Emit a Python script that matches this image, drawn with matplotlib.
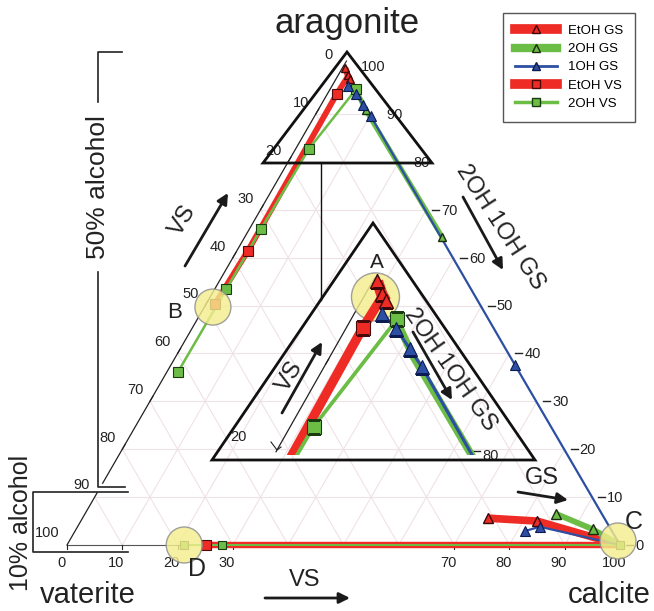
import matplotlib
matplotlib.use('Agg')
import matplotlib.pyplot as plt
import numpy as np
from matplotlib.patches import Polygon, Circle
from matplotlib.lines import Line2D

plt.rcParams['font.family'] = ['Liberation Sans', 'DejaVu Sans']

# ---------------- data: ternary compositions in % (a = aragonite, c = calcite; vaterite = 100 - a - c)
# 50 % alcohol
etoh_gs50_a = [99.6, 98.1, 97.3]
etoh_gs50_c = [0.5, 1.7, 2.5]
oh2_gs50_a = [95.2, 90.8, 64.3]
oh2_gs50_c = [4.6, 8.6, 35.7]
oh1_gs50_a = [95.8, 94.1, 91.8, 89.6, 37.6, 0.0]
oh1_gs50_c = [2.9, 5.2, 7.7, 10.1, 62.2, 100.0]
etoh_vs50_a = [98.1, 94.2, 61.4, 50.3]
etoh_vs50_c = [1.9, 1.7, 2.0, 1.6]
oh2_vs50_a = [95.2, 82.7, 66.0, 53.4, 36.1]
oh2_vs50_c = [4.7, 2.4, 2.1, 2.1, 2.0]
# 10 % alcohol
etoh_gs10_a = [5.6, 5.0, 0.0]
etoh_gs10_c = [73.3, 82.5, 100.0]
oh2_gs10_a = [6.5, 3.3, 0.0]
oh2_gs10_c = [85.2, 93.4, 100.0]
oh1_gs10_a = [2.9, 3.8, 0.0]
oh1_gs10_c = [81.3, 83.6, 100.0]
etoh_vs10_a = [0.0, 0.0]
etoh_vs10_c = [25.1, 100.0]
oh2_vs10_a = [0.0, 0.0, 0.0]
oh2_vs10_c = [21.2, 28.0, 100.0]

series_labels = ['EtOH GS', '2OH GS', '1OH GS', 'EtOH VS', '2OH VS']
left_ticks = [0, 10, 20, 30, 40, 50, 60, 70, 80]
right_ticks = [100, 90, 80, 70, 60, 50, 40, 30, 20, 10, 0]
bottom_ticks = [0, 10, 20, 30, 70, 80, 90, 100]

# ---------------- styles
RED, GREEN, BLUE = '#ee2b25', '#6cbd46', '#2d4fa3'
DARK = '#222222'
styles = {
    'etoh_gs': dict(color=RED, lw=5.5, marker='^', ms=7, mfc=RED, mec='#3a0808', mew=1.0),
    'oh2_gs': dict(color=GREEN, lw=4.2, marker='^', ms=7, mfc=GREEN, mec='#1b2a10', mew=1.0),
    'oh1_gs': dict(color=BLUE, lw=1.6, marker='^', ms=7, mfc=BLUE, mec='#0b1a50', mew=0.8),
    'etoh_vs': dict(color=RED, lw=4.2, marker='s', ms=6.5, mfc=RED, mec='#4a0a0a', mew=0.8),
    'oh2_vs': dict(color=GREEN, lw=1.8, marker='s', ms=6.5, mfc=GREEN, mec='#1a3a10', mew=0.8),
}
zorders = {'etoh_gs': 3, 'oh2_gs': 3.5, 'oh1_gs': 4.5, 'etoh_vs': 3.2, 'oh2_vs': 4.2}

# ---------------- projections (main triangle and magnified inset of the aragonite corner)
X0, Y0, W, H = 67.0, 545.0, 553.0, 479.0
def tern(a, c):
    a = np.asarray(a, float); c = np.asarray(c, float)
    return X0 + (c + a / 2) * W / 100, Y0 - a * H / 100

IX0, IY0, IW, IH = 277.0, 450.0, 195.0, 172.0
def tern_in(a, c):
    a = np.asarray(a, float); c = np.asarray(c, float)
    return IX0 + (c + (a - 80) / 2) * IW / 20, IY0 - (a - 80) * IH / 20

fig = plt.figure(figsize=(6.54, 6.11), dpi=100)
ax = fig.add_axes([0, 0, 1, 1])
ax.set_xlim(0, 654)
ax.set_ylim(611, 0)
ax.axis('off')

# ---------------- faint grid
GRID = '#efe2e5'
for k in range(10, 100, 10):
    for aa, cc in (([k, k], [0, 100 - k]), ([0, 100 - k], [k, k]), ([0, 100 - k], [100 - k, 0])):
        x, y = tern(aa, cc)
        ax.plot(x, y, color=GRID, lw=0.8, zorder=0.5)

# ---------------- main triangle edges (left edge broken, base)
x, y = tern([100, 12.9], [0, 0]); ax.plot(x, y, color=DARK, lw=0.9, zorder=2)
x, y = tern([10.9, 0], [0, 0]); ax.plot(x, y, color=DARK, lw=0.9, zorder=2)
x, y = tern([0, 0], [0, 100]); ax.plot(x, y, color='#555555', lw=0.8, zorder=2)

# tick labels
TF = ['Liberation Sans Narrow', 'Liberation Sans', 'DejaVu Sans']
for v in left_ticks:
    x, y = tern(100 - v, 0)
    ax.plot([x, x + 3], [y, y - 5], color=DARK, lw=0.8, zorder=2)
    ax.text(x - 15, y - 11, str(v), ha='center', va='center', fontsize=10.5, family=TF, color=DARK)
x, y = tern(12.9, 0)
ax.text(x - 21, y + 2, '90', ha='center', va='center', fontsize=10.5, family=TF, color=DARK)
x, y = tern(0, 0)
ax.text(x - 20, y - 12, '100', ha='center', va='center', fontsize=10.5, family=TF, color=DARK)
for a in right_ticks:
    x, y = tern(a, 100 - a)
    if a <= 70:
        ax.plot([x + 6, x + 13], [y, y], color=DARK, lw=1.0, zorder=2)
    ax.text(x + 15 if a < 100 else x + 17, y + 1, str(a), ha='left', va='center', fontsize=10.5,
            family=TF, color=DARK)
for c in bottom_ticks:
    x, y = tern(0, c)
    ax.plot([x, x], [y, y + 4], color=DARK, lw=0.8, zorder=2)
    ax.text(x - 6, y + 18, str(c), ha='center', va='center', fontsize=10.5, family=TF, color=DARK)

# ---------------- decorative zoom frames
ax.add_patch(Polygon([[347, 52], [263, 163], [432, 163]], closed=True, fill=False, ec='#111111', lw=2.0, zorder=6))
inset_frame = Polygon([[373, 223], [212, 460], [535, 460]], closed=True, fill=False, ec='#111111', lw=2.0, zorder=6)
ax.add_patch(inset_frame)
ax.plot([321, 321], [163, 300], color='#111111', lw=1.0, zorder=6)
clip_poly = Polygon([[373, 223], [215.4, 455], [531.6, 455]], closed=True, transform=ax.transData)

# ---------------- data drawing helper
def draw(tf, a, c, key, scale=1.0, mark=None, clip=None):
    s = styles[key]
    x, y = tf(a, c)
    ln, = ax.plot(x, y, color=s['color'], lw=s['lw'] * scale, solid_capstyle='butt',
                  solid_joinstyle='round', zorder=zorders[key])
    idx = list(range(len(x))) if mark is None else list(mark)
    mk, = ax.plot(x[idx], y[idx], ls='none', marker=s['marker'], ms=s['ms'] * scale,
                  mfc=s['mfc'], mec=s['mec'], mew=s['mew'], zorder=zorders[key] + 4)
    if clip is not None:
        ln.set_clip_path(clip); mk.set_clip_path(clip)

# main, 50 % alcohol
draw(tern, etoh_vs50_a, etoh_vs50_c, 'etoh_vs', mark=[1, 2, 3])
draw(tern, oh2_vs50_a, oh2_vs50_c, 'oh2_vs')
draw(tern, oh2_gs50_a, oh2_gs50_c, 'oh2_gs', scale=0.85)
draw(tern, oh1_gs50_a, oh1_gs50_c, 'oh1_gs', mark=[0, 1, 2, 3, 4])
draw(tern, etoh_gs50_a, etoh_gs50_c, 'etoh_gs', scale=0.8)
# main, 10 % alcohol
draw(tern, etoh_vs10_a, etoh_vs10_c, 'etoh_vs', scale=1.1, mark=[0])
draw(tern, oh2_vs10_a, oh2_vs10_c, 'oh2_vs', scale=0.8)
draw(tern, etoh_gs10_a, etoh_gs10_c, 'etoh_gs', mark=[0, 1])
draw(tern, oh2_gs10_a, oh2_gs10_c, 'oh2_gs', mark=[0, 1])
draw(tern, oh1_gs10_a, oh1_gs10_c, 'oh1_gs', mark=[0, 1])

# inset (magnified aragonite corner, 50 % alcohol)
draw(tern_in, etoh_vs50_a, etoh_vs50_c, 'etoh_vs', scale=1.6, mark=[1], clip=clip_poly)
draw(tern_in, oh2_vs50_a, oh2_vs50_c, 'oh2_vs', scale=1.5, mark=[0, 1], clip=clip_poly)
draw(tern_in, oh2_gs50_a, oh2_gs50_c, 'oh2_gs', scale=1.3, mark=[], clip=clip_poly)
draw(tern_in, oh1_gs50_a, oh1_gs50_c, 'oh1_gs', scale=1.4, mark=[0, 1, 2, 3], clip=clip_poly)
draw(tern_in, etoh_gs50_a, etoh_gs50_c, 'etoh_gs', scale=1.5, clip=clip_poly)

# inset axis: left edge and ticks
x, y = tern_in([100, 79.8], [0, 0]); ax.plot(x, y, color=DARK, lw=0.9, zorder=2)
x, y = tern_in(90, 0); ax.plot([x, x + 3], [y, y - 5], color=DARK, lw=0.8, zorder=2)
x, y = tern_in(80, 0)
ax.plot([x - 6, x, x + 4], [y - 8, y, y - 3], color=DARK, lw=0.8, zorder=2)
ax.text(x - 39, y - 13, '20', ha='center', va='center', fontsize=10.5, family=TF, color=DARK)
x, y = tern_in(80, 20)
ax.plot([x + 1, x + 8], [y + 1, y + 1], color=DARK, lw=1.0, zorder=2)
ax.text(x + 10, y + 6, '80', ha='left', va='center', fontsize=10.5, family=TF, color=DARK)

# ---------------- highlight circles
YEL = '#f5ee8e'
def circ(xy, r, z):
    ax.add_patch(Circle(xy, r, fc=YEL, ec='#8c8c8c', lw=1.0, alpha=0.82, zorder=z))
circ(tern_in(97.8, 1.2), 24, 2.5)
bx, by = tern(etoh_vs50_a[-1], etoh_vs50_c[-1])
circ((bx - 2, by + 3), 18, 12)
circ(tern(oh2_vs10_a[0], oh2_vs10_c[0]), 18, 12)
cx, cy = tern(0, 100)
circ((cx - 2, cy - 4), 18, 12)

for s, xy, fs in (('A', (377, 262), 15), ('B', (175, 313), 16), ('C', (634, 522), 18), ('D', (197, 569), 18)):
    ax.text(*xy, s, ha='center', va='center', fontsize=fs, color=DARK, zorder=15)

# ---------------- arrows and process labels
def arrow(p0, p1, lw=2.0, ms=16):
    ax.annotate('', xy=p1, xytext=p0, zorder=14,
                arrowprops=dict(arrowstyle='-|>', lw=lw, color='#1a1a1a', mutation_scale=ms,
                                shrinkA=0, shrinkB=0))
arrow((185, 266), (228, 193))
ax.text(183, 220, 'VS', rotation=59, ha='center', va='center', fontsize=17, color=DARK)
arrow((463, 197), (503, 270))
ax.text(500, 227, '2OH 1OH GS', rotation=-57, ha='center', va='center', fontsize=17, color=DARK)
arrow((282, 413), (322, 342))
ax.text(290, 376, 'VS', rotation=59, ha='center', va='center', fontsize=17, color=DARK, zorder=14)
arrow((413, 332), (452, 400))
ax.text(450, 370, '2OH 1OH GS', rotation=-55, ha='center', va='center', fontsize=17, color=DARK, zorder=14)
arrow((518, 492), (568, 500))
ax.text(542, 478, 'GS', ha='center', va='center', fontsize=17, color=DARK)
arrow((265, 598), (350, 598))
ax.text(305, 580, 'VS', ha='center', va='center', fontsize=17, color=DARK)

# ---------------- alcohol brackets
ax.plot([122, 98, 98], [52, 52, 102], color=DARK, lw=1.2)
ax.plot([98, 98, 125], [272, 487, 487], color=DARK, lw=1.2)
ax.text(98, 187, '50% alcohol', rotation=90, ha='center', va='center', fontsize=19, color=DARK)
ax.plot([128, 33, 33, 128], [492, 492, 552, 552], color=DARK, lw=1.2)
ax.text(21, 523, '10% alcohol', rotation=90, ha='center', va='center', fontsize=18, color=DARK)

# ---------------- end-member names
ax.text(347, 24, 'aragonite', ha='center', va='center', fontsize=25, color=DARK)
ax.text(88, 603, 'vaterite', ha='center', va='baseline', fontsize=21, color=DARK)
ax.text(609, 603, 'calcite', ha='center', va='baseline', fontsize=21, color=DARK)

# ---------------- legend
keys = ['etoh_gs', 'oh2_gs', 'oh1_gs', 'etoh_vs', 'oh2_vs']
lw_leg = {'etoh_gs': 7, 'oh2_gs': 6, 'oh1_gs': 2, 'etoh_vs': 7, 'oh2_vs': 2.5}
handles = []
for k in keys:
    s = styles[k]
    handles.append(Line2D([], [], color=s['color'], lw=lw_leg[k], marker=s['marker'], ms=6,
                          mfc=s['mfc'] if k in ('oh1_gs', 'oh2_vs') else 'none', mec=s['mec'], mew=1.0))
leg = ax.legend(handles, series_labels, loc='upper left', bbox_to_anchor=(503 / 654, 1 - 13 / 611),
                bbox_transform=fig.transFigure, borderaxespad=0, fontsize=9.5, handlelength=3.2,
                handletextpad=0.85, labelspacing=0.45, borderpad=0.9, fancybox=False, framealpha=1,
                edgecolor='#555555')
leg.get_frame().set_linewidth(1.0)
leg.set_zorder(20)

fig.savefig('out.png', dpi=100)
